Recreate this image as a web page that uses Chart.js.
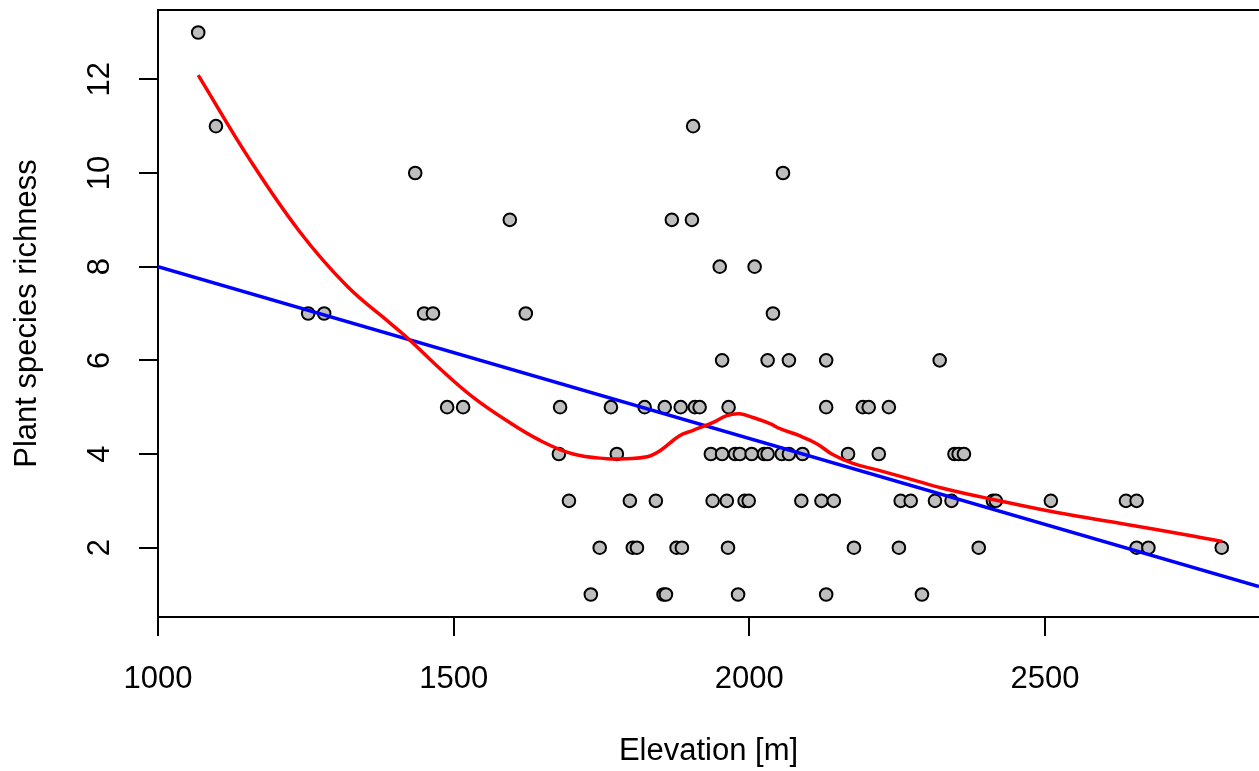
<!DOCTYPE html>
<html>
<head>
<meta charset="utf-8">
<script src="https://cdn.jsdelivr.net/npm/chart.js@4.4.1/dist/chart.umd.min.js"></script>
<style>
  html, body { margin: 0; padding: 0; background: #fff; }
  #chart { display: block; }
</style>
</head>
<body>
<canvas id="chart" width="1259" height="771"></canvas>
<script>
// Observed plots: elevation [m] and plant species richness
const elevation = [
  1068,
  1098, 1905,
  1435, 2057,
  1595, 1869, 1903,
  1950, 2009,
  1254, 1281, 1450, 1465, 1622, 2040,
  1954, 2031, 2067, 2130, 2322,
  1489, 1516, 1680, 1766, 1823, 1857, 1884, 1908, 1916, 1965, 2130, 2192, 2202, 2236,
  1678, 1776, 1935, 1954, 1976, 1984, 2004, 2025, 2031, 2055, 2067, 2090, 2167, 2219, 2347, 2354, 2363,
  1695, 1798, 1842, 1938, 1962, 1992, 1999, 2088, 2122, 2143, 2256, 2273, 2314, 2342, 2412, 2417, 2510, 2637, 2655,
  1747, 1803, 1810, 1877, 1886, 1964, 2177, 2253, 2388, 2655, 2675, 2799,
  1732, 1855, 1859, 1981, 2130, 2292
];
const richness = [
  13,
  11, 11,
  10, 10,
  9, 9, 9,
  8, 8,
  7, 7, 7, 7, 7, 7,
  6, 6, 6, 6, 6,
  5, 5, 5, 5, 5, 5, 5, 5, 5, 5, 5, 5, 5, 5,
  4, 4, 4, 4, 4, 4, 4, 4, 4, 4, 4, 4, 4, 4, 4, 4, 4,
  3, 3, 3, 3, 3, 3, 3, 3, 3, 3, 3, 3, 3, 3, 3, 3, 3, 3, 3,
  2, 2, 2, 2, 2, 2, 2, 2, 2, 2, 2, 2,
  1, 1, 1, 1, 1, 1
];

// linear fit (blue)
const lmX = [1000, 2862];
const lmY = [8.0, 1.17];

// loess smoother (red)
const loessX = [1068, 1156, 1240, 1320, 1392, 1426, 1477, 1532, 1590, 1646, 1702, 1759, 1793, 1827, 1849,
  1882, 1904, 1938, 1962, 1984, 2006, 2035, 2052, 2085, 2114, 2141, 2175, 2216, 2271, 2327, 2412, 2520, 2631, 2745, 2800];
const loessY = [12.09, 10.27, 8.74, 7.58, 6.80, 6.43, 5.82, 5.22, 4.71, 4.29, 4.0, 3.90, 3.90, 3.94, 4.07,
  4.39, 4.50, 4.67, 4.82, 4.86, 4.78, 4.65, 4.54, 4.39, 4.22, 3.99, 3.80, 3.66, 3.47, 3.27, 3.03, 2.75, 2.51, 2.26, 2.13];

const xTicks = [1000, 1500, 2000, 2500];
const yTicks = [2, 4, 6, 8, 10, 12];

const FONT = '"Liberation Sans", Arial, sans-serif';

const points = elevation.map((e, i) => ({ x: e, y: richness[i] }));
const lmLine = lmX.map((e, i) => ({ x: e, y: lmY[i] }));
const loessLine = loessX.map((e, i) => ({ x: e, y: loessY[i] }));

// top edge of the plot box
const boxPlugin = {
  id: 'box',
  afterDraw(chart) {
    const { ctx, chartArea } = chart;
    ctx.save();
    ctx.strokeStyle = '#000';
    ctx.lineWidth = 2;
    ctx.beginPath();
    ctx.moveTo(chartArea.left - 1, chartArea.top);
    ctx.lineTo(chartArea.right + 2, chartArea.top);
    ctx.stroke();
    ctx.restore();
  }
};

new Chart(document.getElementById('chart').getContext('2d'), {
  type: 'scatter',
  data: {
    datasets: [
      {
        type: 'line',
        data: loessLine,
        borderColor: '#ff0000',
        borderWidth: 3.5,
        pointRadius: 0,
        fill: false,
        tension: 0.4,
        order: 0
      },
      {
        type: 'line',
        data: lmLine,
        borderColor: '#0000ff',
        borderWidth: 3.5,
        pointRadius: 0,
        fill: false,
        tension: 0,
        order: 1
      },
      {
        data: points,
        backgroundColor: '#bebebe',
        borderColor: '#000',
        borderWidth: 2,
        pointRadius: 6.3,
        order: 2
      }
    ]
  },
  options: {
    responsive: false,
    animation: false,
    devicePixelRatio: 1,
    layout: { autoPadding: false, padding: { top: 10, right: 0, left: 0, bottom: 0 } },
    plugins: {
      legend: { display: false },
      tooltip: { enabled: false }
    },
    scales: {
      x: {
        type: 'linear',
        min: 1000,
        max: 2862,
        afterBuildTicks(scale) { scale.ticks = xTicks.map(v => ({ value: v })); },
        afterFit(scale) {
          scale.height = 154;
          scale.paddingLeft = 0;
          scale.paddingRight = 0;
        },
        border: { display: true, color: '#000', width: 2 },
        grid: { drawOnChartArea: false, drawTicks: true, tickLength: 19, color: '#000', lineWidth: 2 },
        ticks: {
          color: '#000',
          font: { family: FONT, size: 31 },
          padding: 25,
          maxRotation: 0,
          callback: v => String(v)
        },
        title: {
          display: true,
          text: 'Elevation [m]',
          color: '#000',
          font: { family: FONT, size: 31 },
          padding: { top: 0, bottom: 1 }
        }
      },
      y: {
        type: 'linear',
        min: 0.52,
        max: 13.48,
        afterBuildTicks(scale) { scale.ticks = yTicks.map(v => ({ value: v })); },
        afterFit(scale) {
          scale.width = 158;
          scale.paddingTop = 0;
          scale.paddingBottom = 0;
        },
        border: { display: true, color: '#000', width: 2 },
        grid: { drawOnChartArea: false, drawTicks: true, tickLength: 19, color: '#000', lineWidth: 2 },
        ticks: {
          color: '#000',
          font: { family: FONT, size: 31 },
          minRotation: 90,
          maxRotation: 90,
          crossAlign: 'center',
          padding: 21,
          callback: v => String(v)
        },
        title: {
          display: true,
          text: 'Plant species richness',
          color: '#000',
          font: { family: FONT, size: 31 },
          padding: { top: 9, bottom: 0 }
        }
      }
    }
  },
  plugins: [boxPlugin]
});
</script>
</body>
</html>
